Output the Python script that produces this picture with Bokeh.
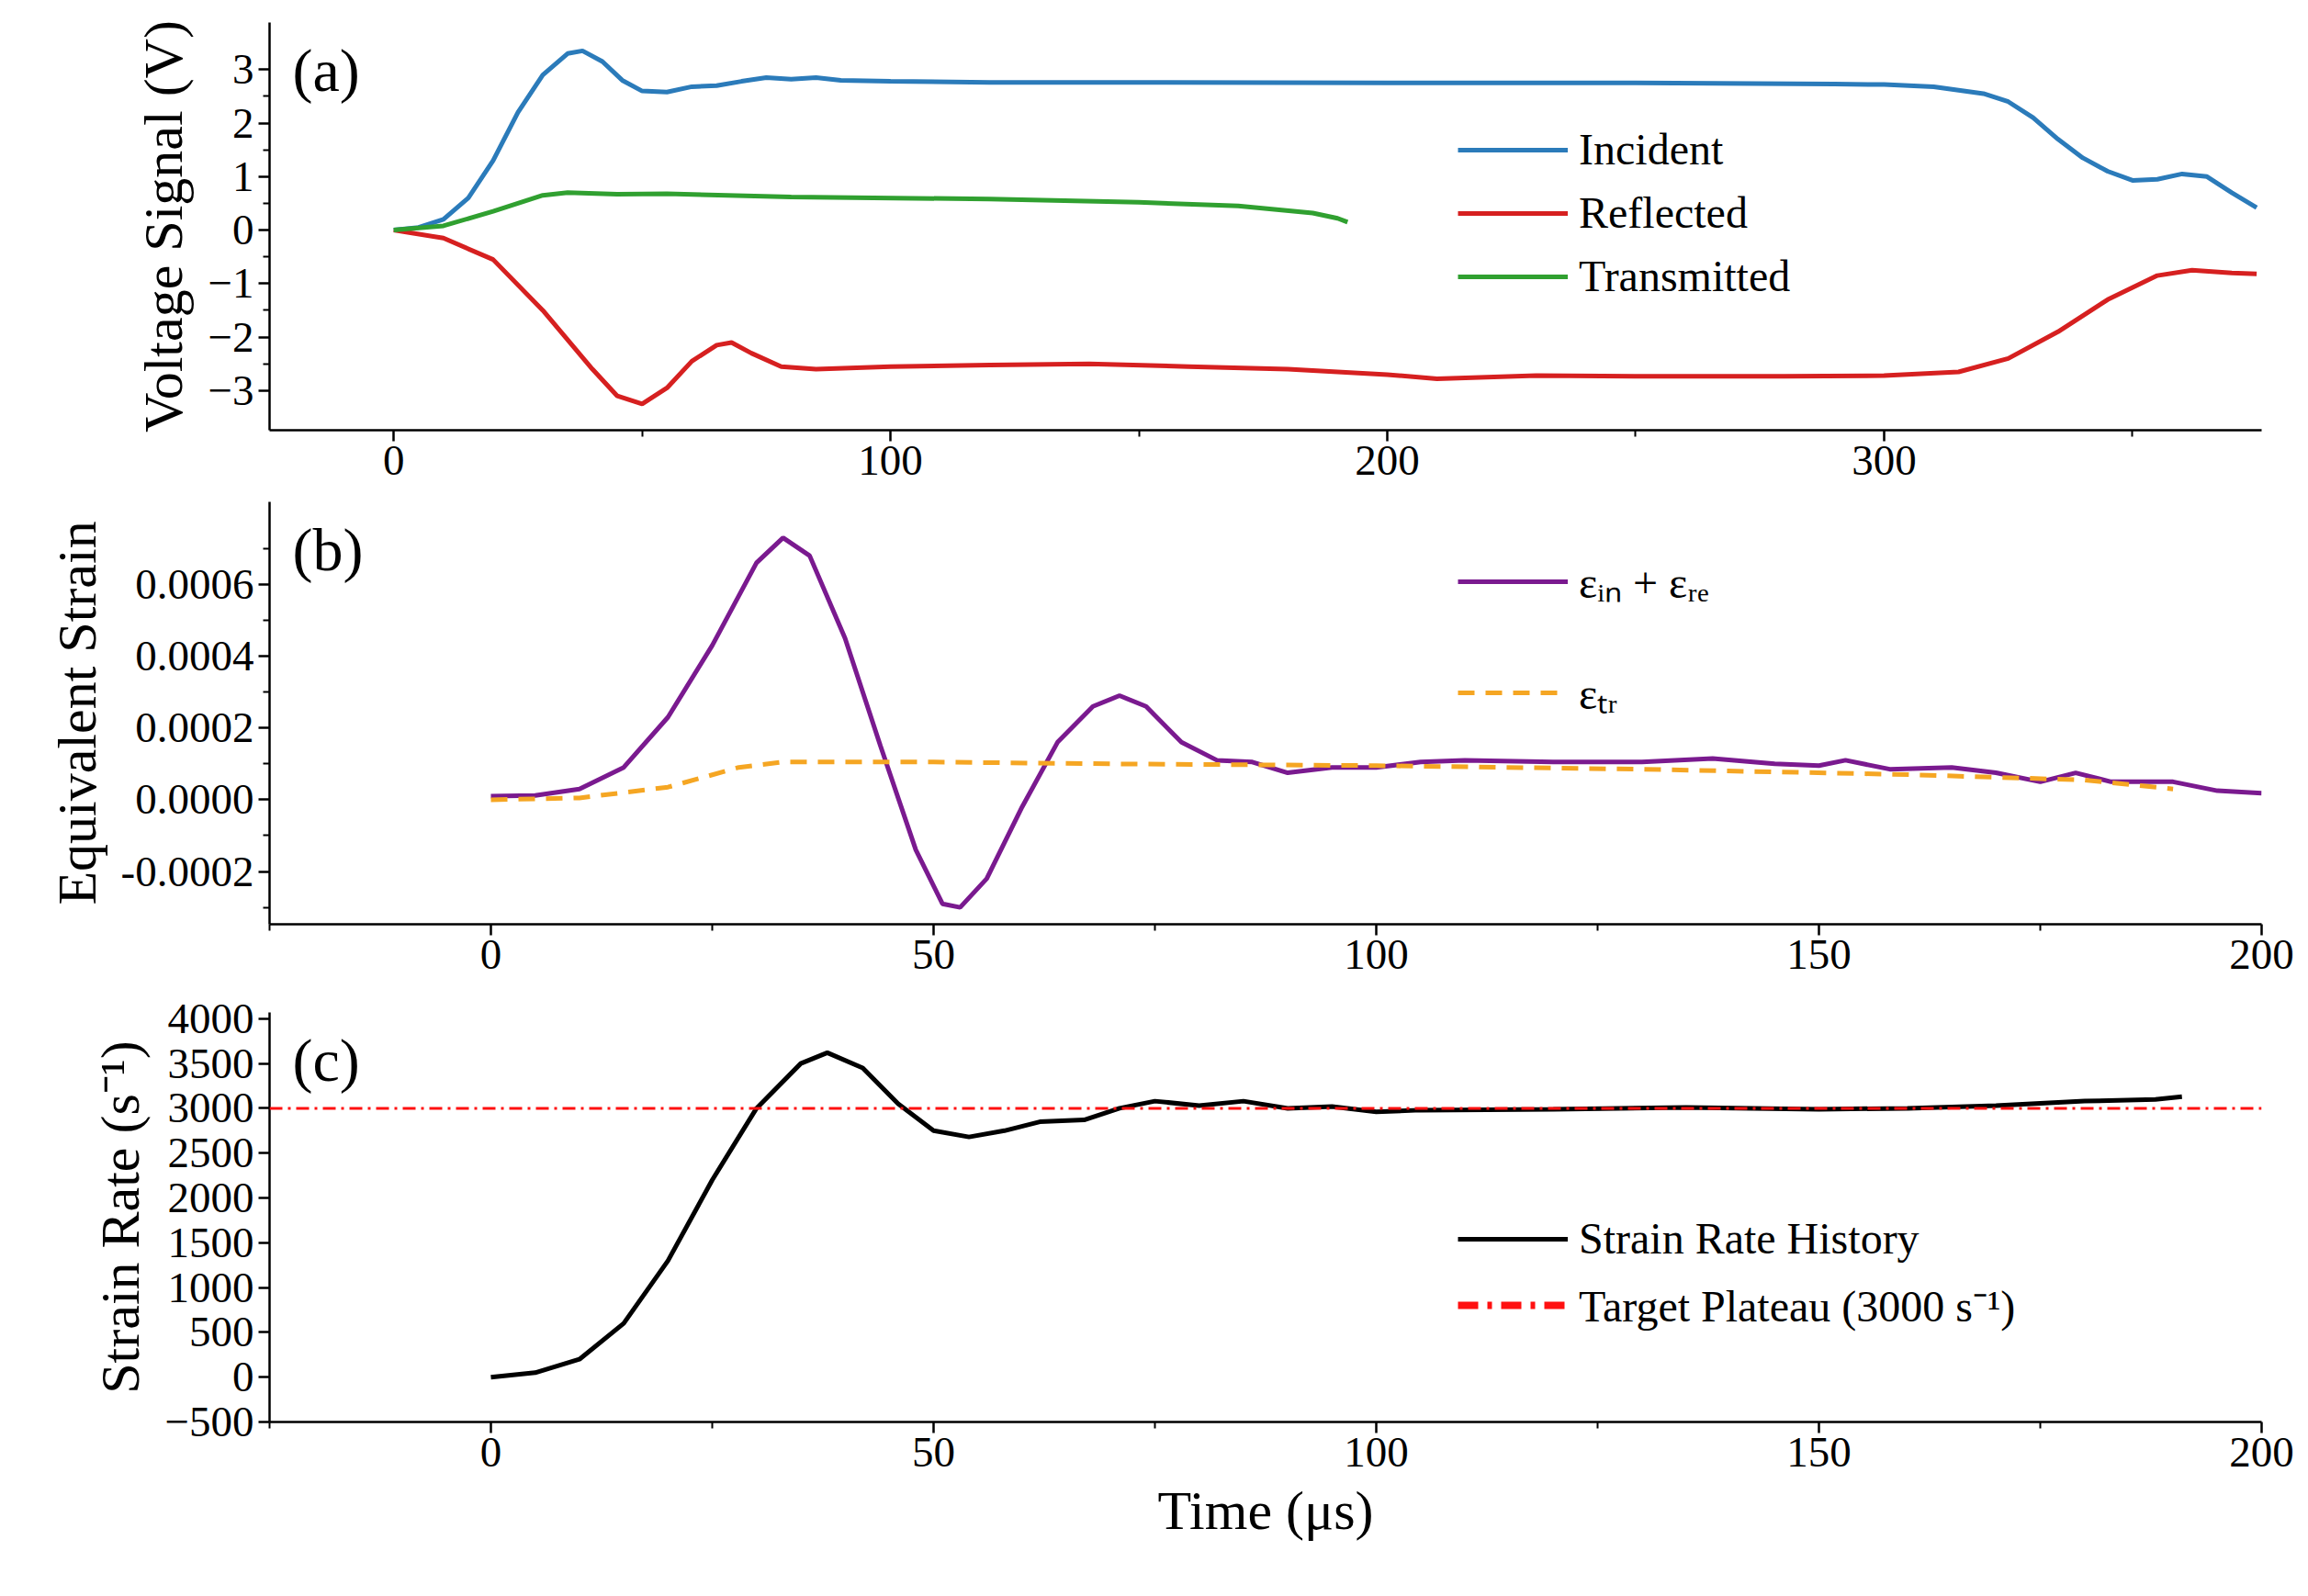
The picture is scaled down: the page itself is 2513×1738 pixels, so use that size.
from bokeh.plotting import figure
from bokeh.layouts import column
from bokeh.models import Legend, LegendItem, Label, Span, FixedTicker, Range1d, CustomJSTickFormatter
from bokeh.embed import file_html
from bokeh.resources import INLINE

# ---- data ----
inc_t = [0,5,10,15,20,25,30,35,38,42,46,50,55,60,65,70,75,80,85,90,100,120,150,200,250,290,300,310,320,325,330,335,340,345,350,355,360,365,370,375]
inc_v = [0,0.05,0.2,0.6,1.3,2.2,2.9,3.3,3.35,3.15,2.8,2.6,2.58,2.68,2.7,2.78,2.85,2.82,2.85,2.8,2.78,2.76,2.76,2.75,2.75,2.73,2.72,2.68,2.55,2.4,2.1,1.7,1.35,1.1,0.93,0.95,1.05,1.0,0.7,0.42]
ref_t = [0,10,20,30,40,45,50,55,60,65,68,72,78,85,100,120,140,160,180,200,210,230,250,280,300,315,325,335,345,355,362,370,375]
ref_v = [0,-0.15,-0.55,-1.5,-2.6,-3.1,-3.25,-2.95,-2.45,-2.15,-2.1,-2.3,-2.55,-2.6,-2.55,-2.52,-2.5,-2.55,-2.6,-2.7,-2.78,-2.72,-2.73,-2.73,-2.72,-2.65,-2.4,-1.9,-1.3,-0.85,-0.75,-0.8,-0.82]
tra_t = [0,10,20,30,35,45,55,80,120,150,170,185,190,192]
tra_v = [0,0.08,0.35,0.65,0.7,0.67,0.68,0.62,0.58,0.52,0.45,0.32,0.22,0.15]

sum_t = [0,5,10,15,20,25,30,33,36,40,44,48,51,53,56,60,64,68,71,74,78,82,86,90,95,100,105,110,120,130,138,145,150,153,158,165,170,175,179,183,190,195,200]
sum_e = [1e-5,1.2e-5,3e-5,9e-5,2.3e-4,4.3e-4,6.6e-4,7.3e-4,6.8e-4,4.5e-4,1.5e-4,-1.4e-4,-2.9e-4,-3.0e-4,-2.2e-4,-2e-5,1.6e-4,2.6e-4,2.9e-4,2.6e-4,1.6e-4,1.1e-4,1.05e-4,7.5e-5,9e-5,9e-5,1.05e-4,1.1e-4,1.05e-4,1.05e-4,1.15e-4,1.0e-4,9.5e-5,1.1e-4,8.5e-5,9e-5,7.5e-5,5e-5,7.5e-5,5e-5,5e-5,2.5e-5,1.8e-5]
tr_t = [0,10,20,28,33,50,70,100,130,160,180,190]
tr_e = [0,5e-6,3.5e-5,9e-5,1.05e-4,1.05e-4,1.0e-4,9.5e-5,8.5e-5,7e-5,5.5e-5,3e-5]

sr_t = [0,5,10,15,20,25,30,35,38,42,46,50,54,58,62,67,71,75,80,85,90,95,100,105,120,135,150,160,170,180,188,191]
sr_v = [0,50,200,600,1300,2200,3000,3500,3620,3450,3050,2750,2680,2750,2850,2870,3000,3080,3030,3080,3000,3020,2960,2980,2990,3010,2990,3000,3030,3080,3100,3130]
target = 3000

FONT = "Liberation Serif"
FW, LEFT = 2169, 293

def mk(xr, yr, fh, top, bottom, xt, yt):
    p = figure(frame_width=FW, frame_height=fh, min_border_left=LEFT, min_border_right=40,
               min_border_top=top, min_border_bottom=bottom, output_backend="svg",
               toolbar_location=None, x_range=Range1d(*xr), y_range=Range1d(*yr))
    p.outline_line_color = None
    p.grid.visible = False
    p.xaxis.ticker = FixedTicker(ticks=xt[0], minor_ticks=xt[1])
    p.yaxis.ticker = FixedTicker(ticks=yt[0], minor_ticks=yt[1])
    for ax in (p.xaxis, p.yaxis):
        ax.major_label_text_font = FONT
        ax.major_label_text_font_size = "47px"
        ax.major_label_text_color = "black"
        ax.axis_label_text_font = FONT
        ax.axis_label_text_font_size = "60px"
        ax.axis_label_text_color = "black"
        ax.axis_label_text_font_style = "normal"
        ax.major_tick_in = 0
        ax.major_tick_out = 12
        ax.minor_tick_in = 0
        ax.minor_tick_out = 7
        ax.axis_line_width = 2.5
        ax.major_tick_line_width = 2.5
        ax.minor_tick_line_width = 2
        ax.axis_label_standoff = 12
    return p

def leg(p, items, loc, spacing, glyph_w=120):
    L = Legend(items=items, location=loc, label_text_font=FONT, label_text_font_size="48px",
               label_text_color="black",
               glyph_width=glyph_w, glyph_height=40, spacing=spacing, border_line_color=None,
               background_fill_alpha=0, label_standoff=12)
    p.add_layout(L, "center")

def plabel(p, s):
    p.add_layout(Label(x=25, y=p.frame_height - 88, x_units="screen", y_units="screen", text=s,
                       text_font=FONT, text_font_size="66px", text_color="black"))

# ---- panel a ----
pa = mk((-25, 376), (-3.74, 3.88), 444, 24, 78,
        ([0,100,200,300], [-50,50,150,250,350]),
        ([-3,-2,-1,0,1,2,3], [-2.5,-1.5,-0.5,0.5,1.5,2.5]))
pa.yaxis.axis_label = "Voltage Signal (V)"
r1 = pa.line(inc_t, inc_v, line_color="#2b7bba", line_width=5)
r2 = pa.line(ref_t, ref_v, line_color="#d62020", line_width=5)
r3 = pa.line(tra_t, tra_v, line_color="#30a030", line_width=5)
leg(pa, [LegendItem(label="Incident", renderers=[r1]), LegendItem(label="Reflected", renderers=[r2]),
         LegendItem(label="Transmitted", renderers=[r3])], (1294, 140), 14)
plabel(pa, "(a)")

# ---- panel b ----
pb = mk((-25, 200), (-0.000347, 0.00083), 460, 0, 78,
        ([0,50,100,150,200], [-25,25,75,125,175]),
        ([-0.0002,0,0.0002,0.0004,0.0006], [-0.0003,-0.0001,0.0001,0.0003,0.0005,0.0007]))
pb.yaxis.axis_label = "Equivalent Strain"
pb.yaxis.formatter = CustomJSTickFormatter(code="return tick.toFixed(4);")
s1 = pb.line(sum_t, sum_e, line_color="#7a1a8f", line_width=5)
s2 = pb.line(tr_t, tr_e, line_color="#f5a623", line_width=5, line_dash="18 12")
leg(pb, [LegendItem(label="ε\u1d62\u2099 + ε\u1d63\u2091", renderers=[s1]),
         LegendItem(label="ε\u209c\u1d63", renderers=[s2])], (1294, 220), 56)
plabel(pb, "(b)")

# ---- panel c ----
pc = mk((-25, 200), (-500, 4070), 446, 18, 30,
        ([0,50,100,150,200], [-25,25,75,125,175]),
        ([-500,0,500,1000,1500,2000,2500,3000,3500,4000], []))
pc.yaxis.axis_label = "Strain Rate (s⁻¹)"
pc.xaxis.axis_label = "Time (μs)"
pc.add_layout(Span(location=target, dimension="width", line_color="#ff1010", line_width=3,
                   line_dash="14 6 3 6"))
c1 = pc.line(sr_t, sr_v, line_color="black", line_width=5)
c2 = pc.line([float("nan")], [float("nan")], line_color="#ff1010", line_width=8, line_dash="22 10 5 10")
leg(pc, [LegendItem(label="Strain Rate History", renderers=[c1]),
         LegendItem(label="Target Plateau (3000 s⁻¹)", renderers=[c2])], (1294, 95), 12)
plabel(pc, "(c)")

p = column(pa, pb, pc, spacing=0)
open("out.html", "w").write(file_html(p, INLINE))
